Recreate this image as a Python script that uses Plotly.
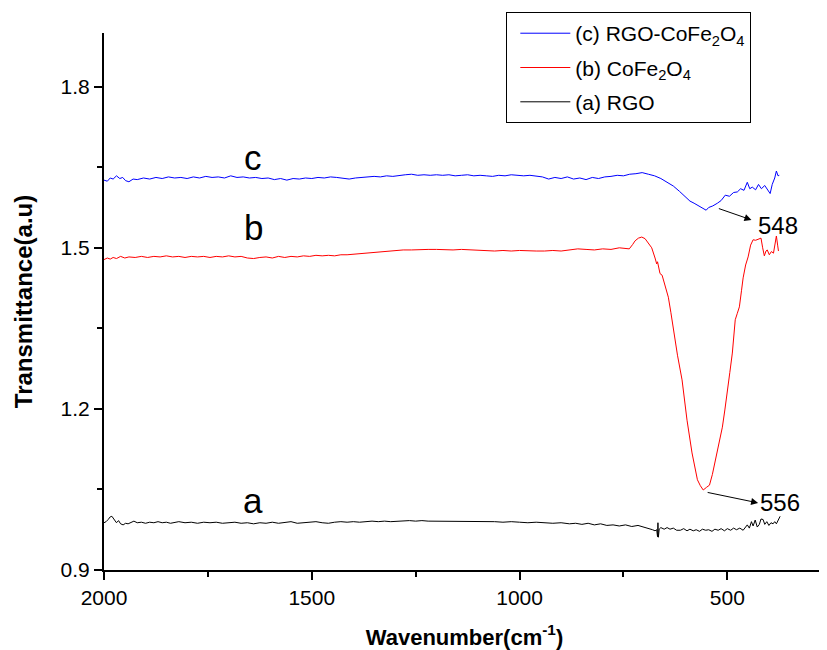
import plotly.graph_objects as go

# -----------------------------------------------------------------------------
# Data (wavenumber in cm-1, transmittance in a.u.)
# -----------------------------------------------------------------------------

wn_c = [2000, 1992, 1985, 1978, 1970, 1962, 1955, 1948, 1940, 1930, 1920, 1905,
        1890, 1875, 1860, 1845, 1830, 1815, 1800, 1785, 1770, 1755, 1740, 1725,
        1710, 1695, 1680, 1665, 1650, 1635, 1620, 1605, 1590, 1575, 1560, 1545,
        1530, 1515, 1500, 1485, 1470, 1455, 1440, 1425, 1410, 1395, 1380, 1365,
        1350, 1335, 1320, 1305, 1290, 1275, 1260, 1245, 1230, 1215, 1200, 1185,
        1170, 1155, 1140, 1125, 1110, 1095, 1080, 1065, 1050, 1035, 1020, 1005,
        990, 975, 960, 945, 930, 915, 900, 885, 870, 855, 840, 825, 810, 795,
        780, 765, 750, 735, 720, 705, 690, 675, 660, 645, 630, 615, 600, 590,
        580, 570, 560, 551, 545, 535, 524, 515, 505, 495, 485, 476, 468, 460,
        452, 446, 440, 432, 425, 418, 410, 404, 397, 392, 386, 382, 378, 375]
t_c = [1.626, 1.624, 1.630, 1.628, 1.634, 1.629, 1.631, 1.625, 1.623, 1.628,
       1.627, 1.630, 1.628, 1.631, 1.629, 1.632, 1.630, 1.631, 1.629, 1.632,
       1.630, 1.633, 1.631, 1.632, 1.630, 1.634, 1.631, 1.632, 1.630, 1.631,
       1.629, 1.630, 1.627, 1.629, 1.626, 1.629, 1.628, 1.630, 1.629, 1.631,
       1.630, 1.632, 1.631, 1.630, 1.628, 1.630, 1.631, 1.632, 1.633, 1.632,
       1.634, 1.633, 1.635, 1.636, 1.637, 1.635, 1.636, 1.635, 1.636, 1.635,
       1.636, 1.634, 1.635, 1.636, 1.634, 1.635, 1.634, 1.633, 1.635, 1.634,
       1.636, 1.635, 1.634, 1.635, 1.633, 1.632, 1.628, 1.631, 1.629, 1.632,
       1.628, 1.630, 1.627, 1.631, 1.629, 1.632, 1.633, 1.635, 1.634, 1.637,
       1.638, 1.640, 1.637, 1.634, 1.629, 1.622, 1.615, 1.605, 1.594, 1.587,
       1.583, 1.578, 1.574, 1.570, 1.575, 1.578, 1.583, 1.588, 1.598, 1.596,
       1.603, 1.604, 1.610, 1.607, 1.622, 1.610, 1.613, 1.608, 1.618, 1.610,
       1.616, 1.608, 1.601, 1.618, 1.630, 1.643, 1.634, 1.635]

wn_b = [2000, 1992, 1985, 1978, 1970, 1960, 1950, 1940, 1925, 1910, 1895, 1880,
        1865, 1850, 1835, 1820, 1805, 1790, 1775, 1760, 1745, 1730, 1715, 1700,
        1685, 1670, 1655, 1640, 1625, 1610, 1595, 1580, 1565, 1550, 1535, 1520,
        1505, 1490, 1475, 1460, 1445, 1430, 1415, 1400, 1380, 1360, 1340, 1320,
        1300, 1280, 1260, 1240, 1220, 1200, 1180, 1160, 1140, 1120, 1100, 1080,
        1060, 1040, 1020, 1000, 980, 960, 940, 920, 900, 880, 860, 840, 820, 800,
        780, 760, 745, 736, 728, 722, 714, 706, 698, 690, 682, 674, 670, 668,
        666, 662, 657, 650, 642, 636, 630, 620, 609, 597, 585, 578, 572, 565,
        558, 550, 543, 536, 529, 520, 512, 506, 500, 494, 488, 481, 476, 471,
        466, 462, 456, 450, 444, 438, 432, 426, 419, 415, 411, 407, 404, 399,
        394, 389, 385, 382, 379, 377]
t_b = [1.478, 1.481, 1.479, 1.482, 1.480, 1.484, 1.481, 1.483, 1.482, 1.484,
       1.482, 1.484, 1.483, 1.485, 1.483, 1.484, 1.482, 1.484, 1.483, 1.484,
       1.482, 1.484, 1.483, 1.485, 1.483, 1.484, 1.481, 1.480, 1.482, 1.483,
       1.481, 1.484, 1.482, 1.484, 1.483, 1.485, 1.484, 1.486, 1.485, 1.486,
       1.485, 1.487, 1.487, 1.488, 1.490, 1.491, 1.493, 1.494, 1.495, 1.496,
       1.496, 1.497, 1.497, 1.497, 1.496, 1.496, 1.497, 1.496, 1.495, 1.494,
       1.494, 1.495, 1.494, 1.495, 1.494, 1.494, 1.494, 1.495, 1.494, 1.496,
       1.498, 1.497, 1.496, 1.498, 1.497, 1.500, 1.499, 1.498, 1.506, 1.513,
       1.518, 1.520, 1.517, 1.509, 1.500, 1.481, 1.470, 1.474, 1.465, 1.452,
       1.449, 1.430, 1.408, 1.380, 1.347, 1.300, 1.254, 1.179, 1.118, 1.090,
       1.068, 1.057, 1.049, 1.054, 1.058, 1.078, 1.105, 1.135, 1.166, 1.198,
       1.230, 1.268, 1.304, 1.366, 1.378, 1.390, 1.420, 1.444, 1.468, 1.483,
       1.505, 1.515, 1.514, 1.516, 1.518, 1.500, 1.485, 1.494, 1.496, 1.487,
       1.493, 1.490, 1.505, 1.522, 1.505, 1.494]

wn_a = [2000, 1995, 1990, 1985, 1981, 1976, 1970, 1965, 1960, 1954, 1948, 1942,
        1935, 1928, 1920, 1910, 1900, 1890, 1880, 1870, 1860, 1850, 1840, 1830,
        1820, 1805, 1790, 1775, 1760, 1745, 1730, 1715, 1700, 1685, 1670, 1655,
        1640, 1625, 1610, 1595, 1580, 1565, 1550, 1535, 1520, 1505, 1490, 1475,
        1460, 1445, 1430, 1415, 1400, 1385, 1370, 1355, 1340, 1325, 1310, 1295,
        1280, 1265, 1250, 1235, 1220, 1200, 1180, 1160, 1140, 1120, 1100, 1080,
        1060, 1040, 1020, 1000, 980, 960, 940, 920, 900, 880, 865, 850, 835, 820,
        805, 790, 775, 760, 745, 730, 715, 700, 690, 680, 674, 670, 668, 667,
        666, 664, 660, 652, 645, 638, 630, 622, 613, 605, 597, 590, 582, 575,
        567, 560, 552, 545, 537, 530, 522, 515, 507, 500, 492, 485, 478, 470,
        462, 456, 452, 447, 442, 438, 433, 428, 423, 419, 414, 410, 405, 400,
        395, 390, 386, 382, 378, 373]
t_a = [0.988, 0.990, 0.994, 0.999, 1.000, 0.994, 0.988, 0.992, 0.986, 0.984,
       0.987, 0.986, 0.988, 0.991, 0.988, 0.989, 0.987, 0.989, 0.988, 0.990,
       0.988, 0.989, 0.987, 0.988, 0.990, 0.988, 0.989, 0.987, 0.989, 0.988,
       0.989, 0.987, 0.988, 0.989, 0.987, 0.988, 0.986, 0.988, 0.987, 0.989,
       0.987, 0.988, 0.990, 0.987, 0.988, 0.989, 0.990, 0.988, 0.987, 0.989,
       0.990, 0.989, 0.990, 0.989, 0.990, 0.991, 0.990, 0.991, 0.990, 0.991,
       0.991, 0.992, 0.991, 0.992, 0.991, 0.991, 0.990, 0.991, 0.991, 0.990,
       0.991, 0.990, 0.990, 0.989, 0.990, 0.989, 0.988, 0.989, 0.988, 0.987,
       0.988, 0.986, 0.987, 0.985, 0.987, 0.984, 0.986, 0.983, 0.984, 0.982,
       0.984, 0.981, 0.983, 0.980, 0.977, 0.975, 0.973, 0.975, 0.962, 0.988,
       0.961, 0.976, 0.979, 0.976, 0.979, 0.976, 0.978, 0.974, 0.974, 0.977,
       0.973, 0.976, 0.973, 0.975, 0.972, 0.976, 0.974, 0.975, 0.972, 0.976,
       0.974, 0.977, 0.973, 0.977, 0.974, 0.978, 0.975, 0.978, 0.974, 0.981,
       0.984, 0.978, 0.990, 0.982, 0.993, 0.980, 0.985, 0.995, 0.994, 0.985,
       0.990, 0.983, 0.988, 0.986, 0.990, 0.986, 0.993, 1.000]

FONT = "Arial, Liberation Sans, sans-serif"

# -----------------------------------------------------------------------------
# Figure
# -----------------------------------------------------------------------------

fig = go.Figure()
fig.add_trace(go.Scatter(x=wn_c, y=t_c, mode="lines", name="(c) RGO-CoFe<sub>2</sub>O<sub>4</sub>",
                         legendgroup="c", line=dict(color="#0000ff", width=1)))
fig.add_trace(go.Scatter(x=wn_b, y=t_b, mode="lines", name="(b) CoFe<sub>2</sub>O<sub>4</sub>",
                         legendgroup="b", line=dict(color="#ff0000", width=1)))
fig.add_trace(go.Scatter(x=wn_a, y=t_a, mode="lines", name="(a) RGO",
                         legendgroup="a", line=dict(color="#000000", width=1)))

# curve letters
for txt, xv, yv in [("c", 1641, 1.628), ("b", 1641, 1.497), ("a", 1641, 0.990)]:
    fig.add_annotation(x=xv, y=yv, text=txt, showarrow=False, yanchor="bottom",
                       font=dict(family=FONT, size=35, color="black"))

# peak labels with arrows
for txt, x_tail, y_tail, x_head, y_head, x_txt, y_txt in [
        ("548", 524, 1.574, 442, 1.552, 377, 1.541),
        ("556", 551, 1.045, 426, 1.025, 373, 1.025)]:
    fig.add_annotation(x=x_head, y=y_head, ax=x_tail, ay=y_tail, axref="x", ayref="y",
                       text="", showarrow=True, arrowhead=2, arrowsize=1.4,
                       arrowwidth=1, arrowcolor="black")
    fig.add_annotation(x=x_txt, y=y_txt, text=txt, showarrow=False,
                       font=dict(family=FONT, size=24, color="black"))

# page body adds 8px, so the figure is 8px smaller than the window
fig.update_layout(
    width=819, height=642,
    margin=dict(l=96, r=2, t=25, b=80),
    paper_bgcolor="white", plot_bgcolor="white",
    font=dict(family=FONT, color="black"),
    showlegend=True,
    legend=dict(x=0.558, y=1.039, xanchor="left", yanchor="top",
                bordercolor="black", borderwidth=1, bgcolor="white",
                itemwidth=50, indentation=8, tracegroupgap=4,
                font=dict(family=FONT, size=21, color="black")),
)

fig.update_xaxes(
    range=[2000, 265], showgrid=False, zeroline=False,
    showline=True, linecolor="black", linewidth=2,
    tickmode="linear", tick0=0, dtick=500, ticks="outside", ticklen=8, tickwidth=2,
    tickcolor="black", tickfont=dict(family=FONT, size=21),
    minor=dict(tickmode="linear", tick0=0, dtick=250, ticks="outside", ticklen=5,
               tickwidth=1.5, tickcolor="black", showgrid=False),
    title=dict(text="<b>Wavenumber(cm<sup>-1</sup>)</b>", font=dict(family=FONT, size=22),
               standoff=21),
)
fig.update_yaxes(
    range=[0.9, 1.9], showgrid=False, zeroline=False,
    showline=True, linecolor="black", linewidth=2,
    tickmode="linear", tick0=0.9, dtick=0.3, tickformat=".1f",
    ticks="outside", ticklen=8, tickwidth=2,
    tickcolor="black", tickfont=dict(family=FONT, size=21),
    minor=dict(tickmode="linear", tick0=0.9, dtick=0.15, ticks="outside", ticklen=5,
               tickwidth=1.5, tickcolor="black", showgrid=False),
    title=dict(text="<b>Transmittance(a.u)</b>", font=dict(family=FONT, size=24),
               standoff=21),
)

fig.write_html("out.html")
